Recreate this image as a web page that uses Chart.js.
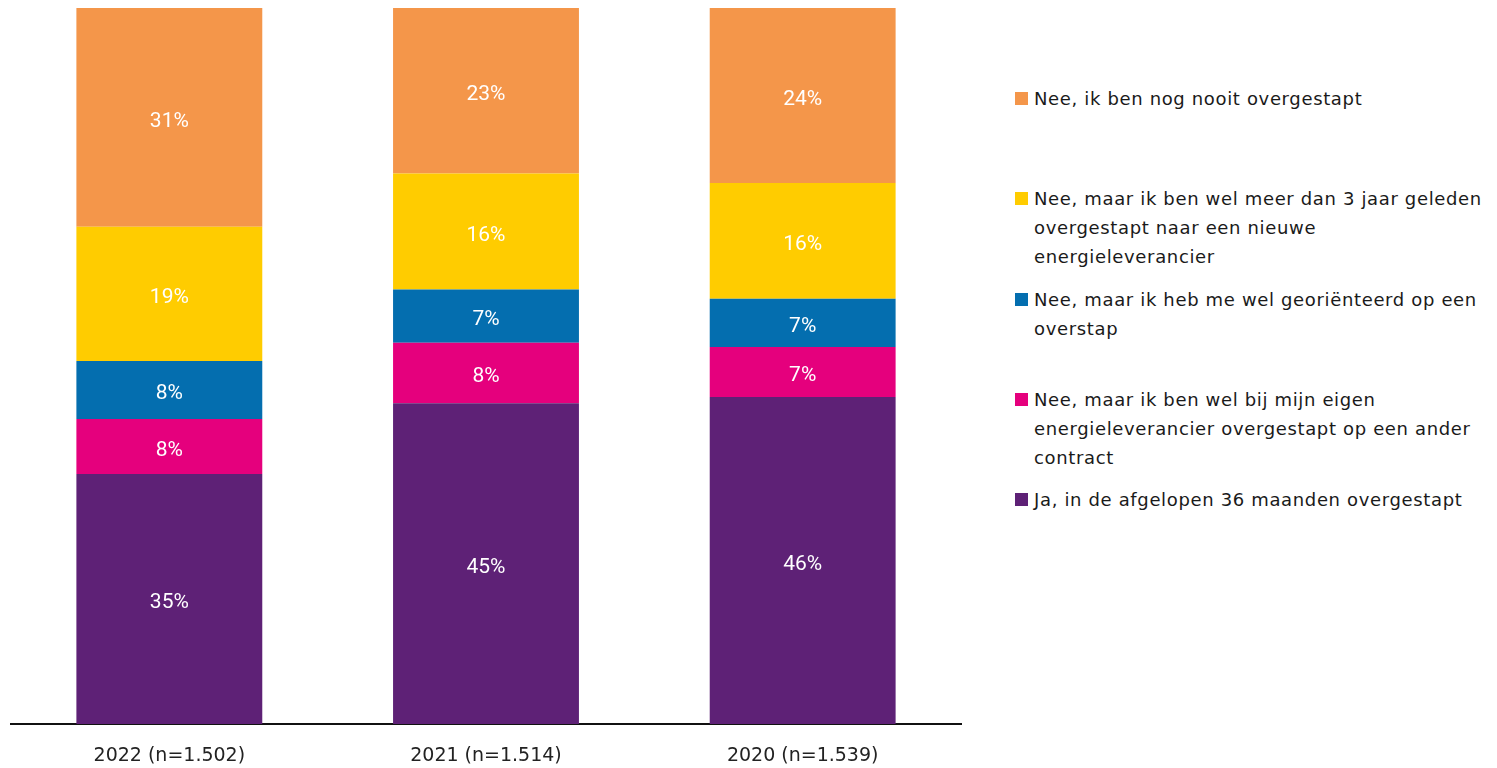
<!DOCTYPE html>
<html lang="nl">
<head>
<meta charset="utf-8">
<title>Overstappen energieleverancier</title>
<script src="https://cdn.jsdelivr.net/npm/chart.js@4/dist/chart.umd.min.js"></script>
<style>
  html, body { margin: 0; padding: 0; background: #ffffff; }
  #wrap { position: relative; width: 1497px; height: 768px; overflow: hidden; }
  #chartBox { position: absolute; left: 0; top: 0; width: 975px; height: 768px; }
  #legend { position: absolute; left: 1015px; top: 0; width: 482px; }
  .item { position: absolute; left: 0; display: flex; align-items: flex-start;
          font-family: "DejaVu Sans", sans-serif; font-size: 18px; line-height: 29px;
          letter-spacing: 0.65px; color: #1a1a1a; }
  .swatch { width: 13px; height: 13px; margin-top: 8px; margin-right: 6px; flex: none; }
  .text { white-space: pre-line; }
</style>
</head>
<body>
<div id="wrap">
  <div id="chartBox"><canvas id="chart"></canvas></div>
  <div id="legend"></div>
</div>
<script>
// Survey years with sample size
const categories = ['2022 (n=1.502)', '2021 (n=1.514)', '2020 (n=1.539)'];

// Share of respondents per answer (percent), stacked bottom to top
const jaOvergestapt   = [34.9, 44.8, 45.66];
const eigenLeverancier = [7.7, 8.45, 6.98];
const georienteerd    = [8.1, 7.45, 6.75];
const meerDan3Jaar    = [18.76, 16.2, 16.16];
const nooitOvergestapt = [30.54, 23.1, 24.45];

// Answer texts (line breaks as printed in the legend)
const seriesLabels = [
  'Ja, in de afgelopen 36 maanden overgestapt',
  'Nee, maar ik ben wel bij mijn eigen\nenergieleverancier overgestapt op een ander\ncontract',
  'Nee, maar ik heb me wel georiënteerd op een\noverstap',
  'Nee, maar ik ben wel meer dan 3 jaar geleden\novergestapt naar een nieuwe\nenergieleverancier',
  'Nee, ik ben nog nooit overgestapt'
];
const seriesColors = ['#5E2176', '#E5007D', '#046EAF', '#FFCC00', '#F4964A'];
const seriesValues = [jaOvergestapt, eigenLeverancier, georienteerd, meerDan3Jaar, nooitOvergestapt];

const datasets = seriesValues.map((vals, i) => ({
  label: seriesLabels[i],
  data: vals,
  backgroundColor: seriesColors[i],
  borderWidth: 0,
  categoryPercentage: 0.587,
  barPercentage: 1
}));

// White percentage labels centred in every segment
const segmentLabels = {
  id: 'segmentLabels',
  afterDatasetsDraw(chart) {
    const ctx = chart.ctx;
    ctx.save();
    ctx.fillStyle = '#ffffff';
    ctx.font = '21px Roboto, sans-serif';
    ctx.textAlign = 'center';
    ctx.textBaseline = 'middle';
    chart.data.datasets.forEach((ds, di) => {
      const meta = chart.getDatasetMeta(di);
      meta.data.forEach((bar, i) => {
        const v = ds.data[i];
        const y = (bar.y + bar.base) / 2 + 4;
        ctx.fillText(Math.round(v) + '%', bar.x, y);
      });
    });
    ctx.restore();
  }
};

new Chart(document.getElementById('chart'), {
  type: 'bar',
  data: { labels: categories, datasets },
  options: {
    responsive: true,
    maintainAspectRatio: false,
    animation: false,
    layout: { padding: { left: 11, right: 14, top: 8, bottom: 0 } },
    plugins: { legend: { display: false }, tooltip: { enabled: false } },
    scales: {
      x: {
        stacked: true,
        grid: { display: false, drawTicks: false },
        border: { display: true, color: '#111111', width: 2 },
        ticks: { color: '#222222', padding: 21, font: { family: 'DejaVu Sans', size: 19 } },
        afterFit(scale) { scale.height = 44; }
      },
      y: {
        stacked: true,
        display: false,
        min: 0,
        max: 100
      }
    }
  },
  plugins: [segmentLabels]
});

// Legend, top entry first (reverse of stacking order)
const legend = document.getElementById('legend');
for (let k = 0; k < seriesLabels.length; k++) {
  const i = seriesLabels.length - 1 - k;
  const item = document.createElement('div');
  item.className = 'item';
  item.style.top = (84 + k * 100.3) + 'px';
  const sw = document.createElement('span');
  sw.className = 'swatch';
  sw.style.background = seriesColors[i];
  const tx = document.createElement('span');
  tx.className = 'text';
  tx.textContent = seriesLabels[i];
  item.appendChild(sw);
  item.appendChild(tx);
  legend.appendChild(item);
}
</script>
</body>
</html>
